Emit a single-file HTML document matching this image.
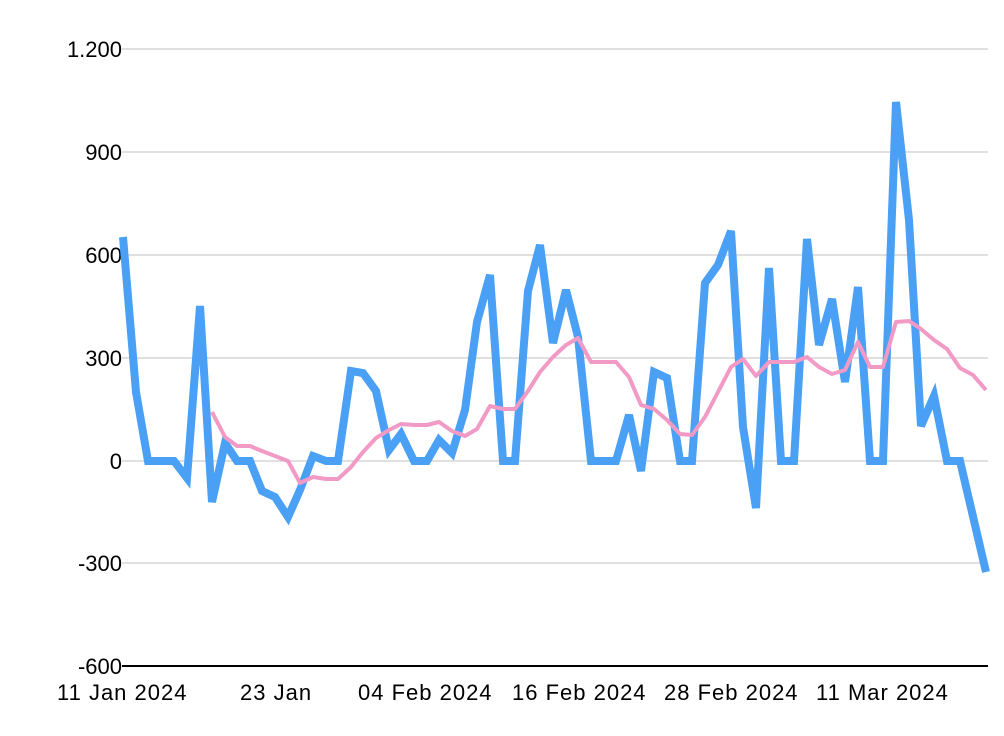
<!DOCTYPE html>
<html><head><meta charset="utf-8"><style>
html,body{margin:0;padding:0;background:#fff;}
svg{display:block;}
text{font-family:"Liberation Sans",sans-serif;font-size:22px;fill:#000;}
</style></head><body>
<svg width="1004" height="736" viewBox="0 0 1004 736">
<g stroke="#c0c0c0" stroke-width="1">
<line x1="122" y1="49" x2="988" y2="49"/>
<line x1="122" y1="152" x2="988" y2="152"/>
<line x1="122" y1="255" x2="988" y2="255"/>
<line x1="122" y1="358" x2="988" y2="358"/>
<line x1="122" y1="461" x2="988" y2="461"/>
<line x1="122" y1="563" x2="988" y2="563"/>
</g>
<line x1="122" y1="666" x2="988" y2="666" stroke="#000" stroke-width="2"/>
<g text-anchor="end">
<text x="122" y="57">1.200</text>
<text x="122" y="160">900</text>
<text x="122" y="263">600</text>
<text x="122" y="366">300</text>
<text x="122" y="469">0</text>
<text x="122" y="571">-300</text>
<text x="122" y="674">-600</text>
</g>
<g letter-spacing="1">
<text x="57" y="700">11 Jan 2024</text>
<text x="240" y="700">23 Jan</text>
<text x="358" y="700">04 Feb 2024</text>
<text x="512" y="700">16 Feb 2024</text>
<text x="664" y="700">28 Feb 2024</text>
<text x="816" y="700">11 Mar 2024</text>
</g>
<polyline fill="none" stroke="#4aa0f5" stroke-width="8" stroke-linejoin="miter" points="123,237 136,392 148,461 161,461 174,461 187,478 200,306 212,502 225,443 237,461 250,461 262,491 275,497 288,517 300,490 313,456 326,461 338,461 351,371 363,373 376,391 389,450 401,434 414,461 427,461 439,440 452,453 465,410 477,322 490,275 503,461 515,461 528,291 540,245 553,343 566,290 578,337 591,461 604,461 616,461 629,415 641,471 654,372 667,378 680,461 692,461 705,283 718,265 731,231 743,427 756,508 769,268 781,461 794,461 807,239 819,345 832,299 845,382 858,287 870,461 883,461 896,102 909,220 921,426 934,396 947,461 960,461 986,572"/>
<polyline fill="none" stroke="#f29ac6" stroke-width="4" stroke-linejoin="round" points="212,412 225,437 237,446 250,446 262,451 275,456 288,461 300,483 313,477 326,479 338,479 351,467 363,452 376,438 389,430 401,424 414,425 427,425 439,422 452,431 465,436 477,429 490,406 503,409 515,409 528,391 540,372 553,357 566,345 578,338 591,362 604,362 616,362 629,377 641,405 654,409 667,420 680,434 692,435 705,417 718,392 731,367 743,359 756,376 769,362 781,362 794,362 807,357 819,367 832,374 845,370 858,342 870,367 883,367 896,322 909,321 921,329 934,340 947,349 960,368 973,375 986,390"/>
</svg>
</body></html>
